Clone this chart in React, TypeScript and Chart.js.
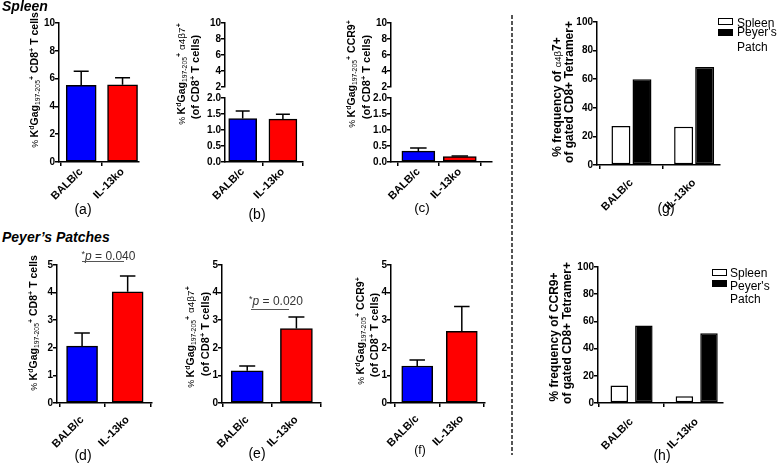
import React, { useEffect, useRef } from 'react';
import { Chart, registerables } from 'chart.js';

Chart.register(...registerables);

const FONT = '"Liberation Sans", Arial, Helvetica, sans-serif';
Chart.defaults.font.family = FONT;
Chart.defaults.color = '#000';

// ---------------- data ----------------
const categories = ['BALB/c', 'IL-13ko'];

// Spleen (mean, SEM)
const spleenTetramer = [5.52, 5.55];
const spleenTetramerSem = [1.01, 0.52];
const spleenA4b7 = [1.36, 1.34];
const spleenA4b7Sem = [0.23, 0.15];
const spleenCcr9 = [0.34, 0.17];
const spleenCcr9Sem = [0.1, 0.02];

// Peyer's patches (mean, SEM)
const ppTetramer = [2.06, 4.03];
const ppTetramerSem = [0.48, 0.57];
const ppA4b7 = [1.17, 2.7];
const ppA4b7Sem = [0.17, 0.42];
const ppCcr9 = [1.34, 2.6];
const ppCcr9Sem = [0.22, 0.9];

// frequency panels (g), (h)
const a4b7FreqSpleen = [27.3, 26.8];
const a4b7FreqPP = [60.0, 68.6];
const ccr9FreqSpleen = [12.9, 5.0];
const ccr9FreqPP = [56.9, 51.3];

// tick values
const ticks0to10 = [0, 2, 4, 6, 8, 10];
const ticksBreakUpper = [2, 4, 6, 8, 10];
const ticksBreakLower = [0, 0.5, 1, 1.5, 2];
const ticks0to5 = [0, 1, 2, 3, 4, 5];
const ticks0to100 = [0, 20, 40, 60, 80, 100];

const legendLabels = ['Spleen', "Peyer's", 'Patch'];

const BLUE = '#0000ff';
const RED = '#ff0000';

// ---------------- chart helpers ----------------
type DS = { values: number[]; errors?: number[]; fill: string | string[] };
type Spec = {
  area: [number, number, number, number];
  yTicks: number[];
  yDec: number;
  xRange: [number, number];
  labels: string[];
  datasets: DS[];
  barThickness?: number;
  catPct?: number;
  barPct?: number;
  axisOnly?: boolean;
  labelDy?: number;
};

const errorBarPlugin = {
  id: 'errorBars',
  afterDatasetsDraw(chart: any) {
    const ctx = chart.ctx;
    chart.data.datasets.forEach((ds: any, di: number) => {
      const errs: number[] | undefined = ds.errors;
      if (!errs) return;
      const meta = chart.getDatasetMeta(di);
      const yScale = chart.scales[meta.yAxisID];
      meta.data.forEach((bar: any, i: number) => {
        const v = ds.data[i].y;
        const yTop = yScale.getPixelForValue(v + errs[i]);
        const yBase = yScale.getPixelForValue(v);
        const half = bar.width * 0.25;
        ctx.save();
        ctx.strokeStyle = '#000';
        ctx.lineWidth = 1.5;
        ctx.beginPath();
        ctx.moveTo(bar.x, yBase);
        ctx.lineTo(bar.x, yTop);
        ctx.moveTo(bar.x - half, yTop);
        ctx.lineTo(bar.x + half, yTop);
        ctx.stroke();
        ctx.restore();
      });
    });
  },
};

const YW = 50;
const PT = 10;
const PR = 12;

function ChartBox({ spec }: { spec: Spec }) {
  const ref = useRef<HTMLCanvasElement | null>(null);
  const [l, t, r, b] = spec.area;
  const XH = spec.axisOnly ? 0 : 60;
  const PB = spec.axisOnly ? 8 : 0;
  const x0 = l - YW;
  const y0 = t - PT;
  const w = r + PR - x0;
  const h = b + XH + PB - y0;

  useEffect(() => {
    if (!ref.current) return;
    const axisLine = {
      grid: {
        display: true,
        drawOnChartArea: false,
        drawTicks: true,
        tickLength: 4,
        color: '#000',
        lineWidth: 1.5,
      },
      border: { display: true, color: '#000', width: 1.5 },
    };
    // rotated category labels drawn at the x-scale tick positions
    const xLabelPlugin = {
      id: 'xLabels45',
      afterDraw(chart: any) {
        if (spec.axisOnly) return;
        const xs = chart.scales.x;
        const ctx = chart.ctx;
        const dy = spec.labelDy ?? 8;
        ctx.save();
        ctx.font = `bold 11px ${FONT}`;
        ctx.fillStyle = '#000';
        ctx.textAlign = 'right';
        ctx.textBaseline = 'middle';
        spec.labels.forEach((lab, i) => {
          const x = xs.getPixelForValue(i);
          const y = chart.chartArea.bottom + dy;
          ctx.save();
          ctx.translate(x, y);
          ctx.rotate(-Math.PI / 4);
          ctx.fillText(lab, 0, 0);
          ctx.restore();
        });
        ctx.restore();
      },
    };
    const chart = new Chart(ref.current, {
      type: 'bar',
      data: {
        datasets: spec.datasets.map((ds) => ({
          data: ds.values.map((v, i) => ({ x: i, y: v })),
          errors: ds.errors,
          backgroundColor: ds.fill,
          borderColor: '#000',
          borderWidth: 1.5,
          borderSkipped: false,
          barThickness: spec.barThickness,
          categoryPercentage: spec.catPct ?? 0.8,
          barPercentage: spec.barPct ?? 0.9,
        })) as any,
      },
      options: {
        responsive: false,
        animation: false,
        events: [],
        layout: { padding: { top: PT, right: PR, bottom: PB, left: 0 } },
        plugins: { legend: { display: false }, tooltip: { enabled: false } },
        scales: {
          x: {
            type: 'linear',
            display: !spec.axisOnly,
            min: spec.xRange[0],
            max: spec.xRange[1],
            offset: false,
            afterBuildTicks: (ax: any) => {
              ax.ticks = spec.labels.map((_, i) => ({ value: i }));
            },
            afterFit: (ax: any) => {
              ax.height = XH;
            },
            ticks: { display: false, autoSkip: false },
            ...axisLine,
          },
          y: {
            type: 'linear',
            min: spec.yTicks[0],
            max: spec.yTicks[spec.yTicks.length - 1],
            afterBuildTicks: (ax: any) => {
              ax.ticks = spec.yTicks.map((v) => ({ value: v }));
            },
            afterFit: (ax: any) => {
              ax.width = YW;
            },
            ticks: {
              padding: 0,
              color: '#000',
              font: { size: 10, weight: 'bold' },
              callback: (v: any) => Number(v).toFixed(spec.yDec),
            },
            ...axisLine,
          },
        } as any,
      },
      plugins: [errorBarPlugin, xLabelPlugin],
    });
    return () => chart.destroy();
  }, []);

  return (
    <canvas
      ref={ref}
      width={w}
      height={h}
      style={{ position: 'absolute', left: x0, top: y0, width: w, height: h }}
    />
  );
}

// ---------------- panel specs ----------------
const specs: Spec[] = [
  // (a)
  {
    area: [59, 23, 139, 162],
    yTicks: ticks0to10, yDec: 0, labelDy: 8,
    xRange: [-0.537, 1.398], labels: categories, barThickness: 30,
    datasets: [{ values: spleenTetramer, errors: spleenTetramerSem, fill: [BLUE, RED] }],
  },
  // (b) upper + lower
  {
    area: [225, 23, 303, 87], yTicks: ticksBreakUpper, yDec: 0,
    xRange: [-0.44, 1.5], labels: categories, axisOnly: true, datasets: [],
  },
  {
    area: [225, 98, 303, 162],
    yTicks: ticksBreakLower, yDec: 1, labelDy: 8,
    xRange: [-0.44, 1.5], labels: categories, barThickness: 28,
    datasets: [{ values: spleenA4b7, errors: spleenA4b7Sem, fill: [BLUE, RED] }],
  },
  // (c) upper + lower
  {
    area: [391, 23, 492, 87], yTicks: ticksBreakUpper, yDec: 0,
    xRange: [-0.66, 1.777], labels: categories, axisOnly: true, datasets: [],
  },
  {
    area: [391, 98, 492, 162],
    yTicks: ticksBreakLower, yDec: 1, labelDy: 8,
    xRange: [-0.66, 1.777], labels: categories, barThickness: 33,
    datasets: [{ values: spleenCcr9, errors: spleenCcr9Sem, fill: [BLUE, RED] }],
  },
  // (g)
  {
    area: [597, 22, 720, 165],
    yTicks: ticks0to100, yDec: 0, labelDy: 16,
    xRange: [-0.55, 1.413], labels: categories, catPct: 0.672, barPct: 0.9,
    datasets: [
      { values: a4b7FreqSpleen, fill: '#ffffff' },
      { values: a4b7FreqPP, fill: '#000000' },
    ],
  },
  // (d)
  {
    area: [57, 265, 152, 403],
    yTicks: ticks0to5, yDec: 0, labelDy: 15,
    xRange: [-0.55, 1.534], labels: categories, barThickness: 31,
    datasets: [{ values: ppTetramer, errors: ppTetramerSem, fill: [BLUE, RED] }],
  },
  // (e)
  {
    area: [222, 265, 321, 403],
    yTicks: ticks0to5, yDec: 0, labelDy: 15,
    xRange: [-0.513, 1.5], labels: categories, barThickness: 32,
    datasets: [{ values: ppA4b7, errors: ppA4b7Sem, fill: [BLUE, RED] }],
  },
  // (f)
  {
    area: [391, 265, 485, 403],
    yTicks: ticks0to5, yDec: 0, labelDy: 14,
    xRange: [-0.588, 1.52], labels: categories, barThickness: 31,
    datasets: [{ values: ppCcr9, errors: ppCcr9Sem, fill: [BLUE, RED] }],
  },
  // (h)
  {
    area: [598, 267, 723, 403],
    yTicks: ticks0to100, yDec: 0, labelDy: 17,
    xRange: [-0.515, 1.404], labels: categories, catPct: 0.756, barPct: 0.71,
    datasets: [
      { values: ccr9FreqSpleen, fill: '#ffffff' },
      { values: ccr9FreqPP, fill: '#000000' },
    ],
  },
];

// ---------------- text helpers ----------------
const sup = (s: string, bold = true) => (
  <span style={{ fontSize: '0.68em', position: 'relative', top: '-0.5em', fontWeight: bold ? 'bold' : 'normal' }}>{s}</span>
);
const sub = (s: string) => (
  <span style={{ fontSize: '0.65em', position: 'relative', top: '0.3em', fontWeight: 'normal' }}>{s}</span>
);
const thin = (s: string, size = '0.85em') => (
  <span style={{ fontWeight: 'normal', fontSize: size }}>{s}</span>
);

const tetramerPrefix = (
  <>
    {thin('% ')}K{sup('d')}Gag{sub('197-205')}{sup('+')}
  </>
);

function VTitle({ cx, cy, size = 10.5, children }: { cx: number; cy: number; size?: number; children: React.ReactNode }) {
  return (
    <div
      style={{
        position: 'absolute',
        left: cx,
        top: cy,
        transform: 'translate(-50%, -50%) rotate(-90deg)',
        whiteSpace: 'nowrap',
        font: `bold ${size}px ${FONT}`,
        lineHeight: 1,
        color: '#000',
      }}
    >
      {children}
    </div>
  );
}

function Label({ cx, cy, text, size = 14 }: { cx: number; cy: number; text: string; size?: number }) {
  return (
    <div
      style={{
        position: 'absolute', left: cx, top: cy, transform: 'translate(-50%, -50%)',
        font: `${size}px ${FONT}`, lineHeight: 1, whiteSpace: 'nowrap', color: '#000',
      }}
    >
      {text}
    </div>
  );
}

function Legend({ x, boxes, texts }: { x: number; boxes: [number, number][]; texts: [number, number][] }) {
  // boxes: [top, height] ; texts: [left, baseline]
  return (
    <>
      {boxes.map(([top, hh], i) => (
        <div
          key={'b' + i}
          style={{
            position: 'absolute', left: x, top, width: 15, height: hh, boxSizing: 'border-box',
            border: '1.5px solid #000', background: i === 0 ? '#fff' : '#000',
          }}
        />
      ))}
      {texts.map(([left, base], i) => (
        <div
          key={'t' + i}
          style={{
            position: 'absolute', left, top: base - 10.2, font: `12px ${FONT}`, lineHeight: '12px',
            whiteSpace: 'nowrap', color: '#000',
          }}
        >
          {legendLabels[i]}
        </div>
      ))}
    </>
  );
}

function PValue({ left, cy, text, line }: { left: number; cy: number; text: string; line: [number, number, number] }) {
  return (
    <>
      <div
        style={{
          position: 'absolute', left, top: cy, transform: 'translateY(-50%)',
          font: `12px ${FONT}`, lineHeight: 1, whiteSpace: 'nowrap', color: '#333',
        }}
      >
        <span style={{ fontSize: '0.75em', position: 'relative', top: '-0.35em' }}>*</span>
        <i>p</i> = {text}
      </div>
      <div
        style={{
          position: 'absolute', left: line[0], top: line[2], width: line[1] - line[0], height: 1,
          background: '#555',
        }}
      />
    </>
  );
}

export default function App() {
  return (
    <div
      style={{
        position: 'absolute', left: 0, top: 0, width: 777, height: 465, background: '#fff',
        overflow: 'hidden', fontFamily: FONT,
      }}
    >
      {specs.map((s, i) => (
        <ChartBox key={i} spec={s} />
      ))}

      {/* section titles */}
      <div style={{ position: 'absolute', left: 2, top: -1.5, font: `italic bold 14px ${FONT}`, lineHeight: '14px', whiteSpace: 'nowrap' }}>
        Spleen
      </div>
      <div style={{ position: 'absolute', left: 2, top: 230, font: `italic bold 14px ${FONT}`, lineHeight: '14px', whiteSpace: 'nowrap' }}>
        Peyer’s Patches
      </div>

      {/* dashed divider */}
      <div
        style={{
          position: 'absolute', left: 511, top: 15, width: 1.5, height: 440,
          background: 'repeating-linear-gradient(to bottom, #555 0px, #555 4px, transparent 4px, transparent 6px)',
        }}
      />

      {/* y-axis titles */}
      <VTitle cx={35} cy={80}>{tetramerPrefix} CD8{sup('+')} T cells</VTitle>

      <VTitle cx={182} cy={74}>{tetramerPrefix} {thin('α4β7', '0.95em')}{sup('+')}</VTitle>
      <VTitle cx={195} cy={77} size={11}>(of CD8{sup('+')} T cells)</VTitle>

      <VTitle cx={352} cy={74}>{tetramerPrefix} CCR9{sup('+')}</VTitle>
      <VTitle cx={366} cy={77} size={11}>(of CD8{sup('+')} T cells)</VTitle>

      <VTitle cx={557} cy={97} size={12}>% frequency of {thin('α4β', '0.8em')}7+</VTitle>
      <VTitle cx={569} cy={92} size={12}>of gated CD8+ Tetramer+</VTitle>

      <VTitle cx={33.5} cy={323}>{tetramerPrefix} CD8{sup('+')} T cells</VTitle>

      <VTitle cx={191} cy={337}>{tetramerPrefix} {thin('α4β7', '0.95em')}{sup('+')}</VTitle>
      <VTitle cx={205} cy={334} size={11}>(of CD8{sup('+')} T cells)</VTitle>

      <VTitle cx={361} cy={331}>{tetramerPrefix} CCR9{sup('+')}</VTitle>
      <VTitle cx={374} cy={335} size={11}>(of CD8{sup('+')} T cells)</VTitle>

      <VTitle cx={554} cy={337} size={12}>% frequency of CCR9+</VTitle>
      <VTitle cx={567} cy={333} size={12}>of gated CD8+ Tetramer+</VTitle>

      {/* legends */}
      <Legend x={718} boxes={[[18, 7], [28.5, 7.5]]} texts={[[737, 27], [737, 36], [737, 51]]} />
      <Legend x={712} boxes={[[269, 7], [280, 6.5]]} texts={[[730, 277], [730, 290], [730, 303.5]]} />

      {/* p values */}
      <PValue left={81.5} cy={256} text="0.040" line={[82, 124, 260.5]} />
      <PValue left={249} cy={300.7} text="0.020" line={[250.7, 289.3, 308.5]} />

      {/* panel letters */}
      <Label cx={83} cy={209} text="(a)" />
      <Label cx={257} cy={214} text="(b)" />
      <Label cx={422} cy={208} text="(c)" size={13.5} />
      <Label cx={666} cy={208} text="(g)" />
      <Label cx={83} cy={455} text="(d)" />
      <Label cx={257} cy={453} text="(e)" />
      <Label cx={420} cy={450} text="(f)" size={12} />
      <Label cx={662} cy={455} text="(h)" />
    </div>
  );
}
